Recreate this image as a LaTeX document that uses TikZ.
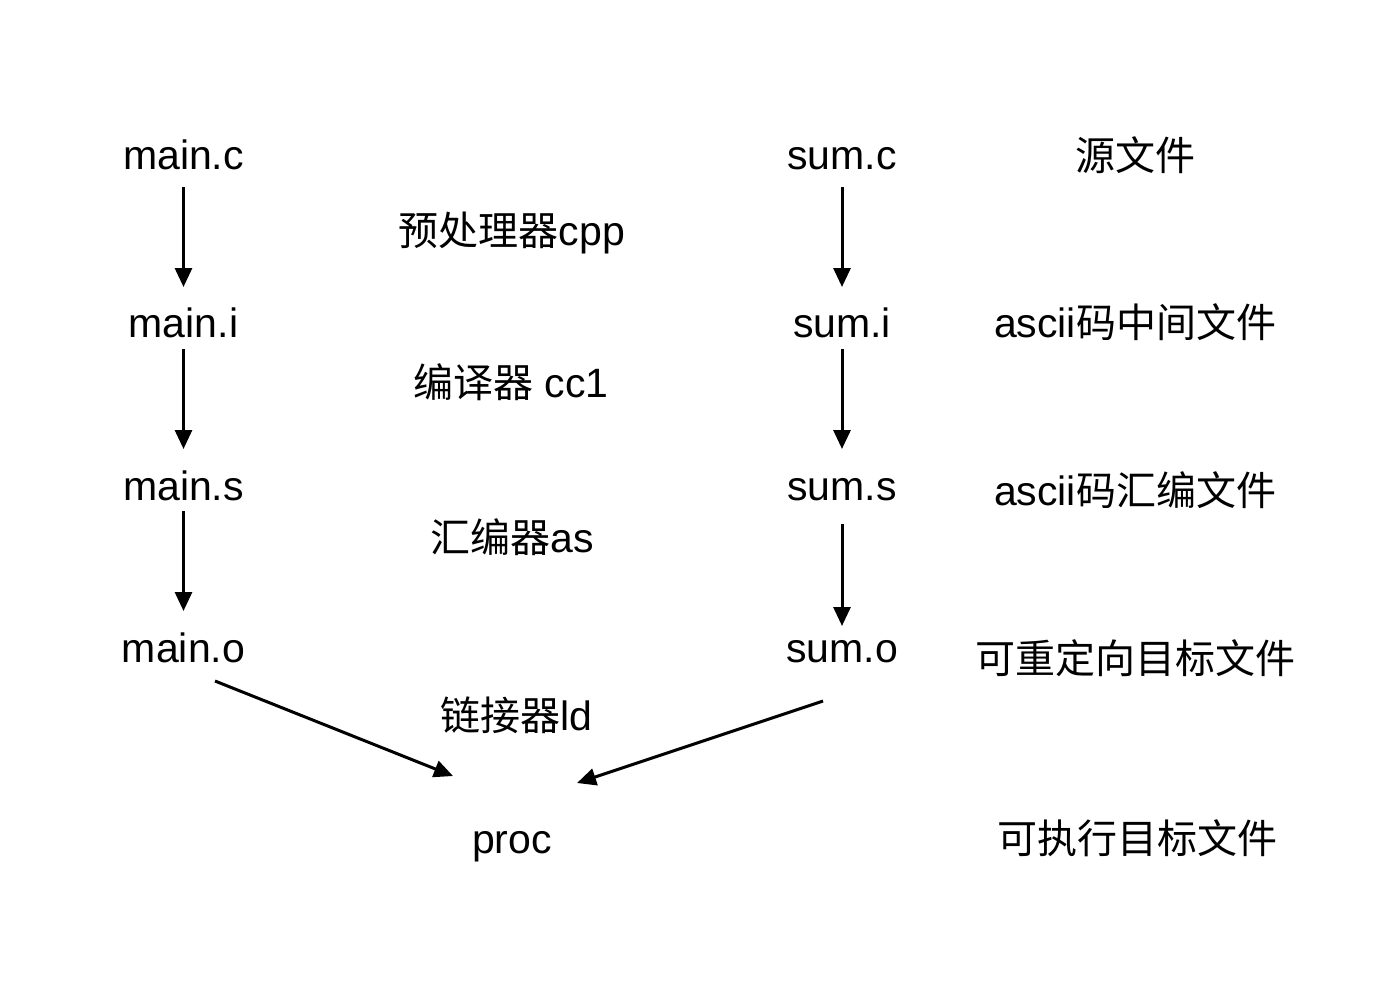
\documentclass[tikz,border=0pt]{standalone}
\usepackage{fontspec}
\setmainfont{Liberation Sans}
\newfontfamily\cjk{Noto Sans CJK SC}
\newcommand\zhtxt[1]{{\fontsize{40}{44}\selectfont\cjk #1}}
\usetikzlibrary{arrows.meta}
\tikzset{
  lbl/.style={font=\fontsize{41}{46}\selectfont, inner sep=0pt, anchor=base},
  arr/.style={line width=3pt, -{Triangle[length=19pt,width=17pt]}}
}
\begin{document}
\begin{tikzpicture}[x=1pt,y=-1pt]
\useasboundingbox[fill=white] (0,0) rectangle (1390,1004);
% left column
\node[lbl] (mainc) at (183.5,169) {main.c};
\node[lbl] (maini) at (183.5,337) {main.i};
\node[lbl] (mains) at (183.5,500) {main.s};
\node[lbl] (maino) at (183.5,662) {main.o};
% right column
\node[lbl] (sumc) at (842,169) {sum.c};
\node[lbl] (sumi) at (842,337) {sum.i};
\node[lbl] (sums) at (842,500) {sum.s};
\node[lbl] (sumo) at (842,662) {sum.o};
% result
\node[lbl] (proc) at (512,853) {proc};
% tool labels
\node[lbl] (cpp) at (512,245) {\zhtxt{预处理器}cpp};
\node[lbl] (cc1) at (511,397) {\zhtxt{编译器} cc1};
\node[lbl] (as)  at (512,552) {\zhtxt{汇编器}as};
\node[lbl] (ld)  at (516,730) {\zhtxt{链接器}ld};
% file types
\node[lbl] (t1) at (1135,170) {\zhtxt{源文件}};
\node[lbl] (t2) at (1135,337) {ascii\zhtxt{码中间文件}};
\node[lbl] (t3) at (1135,505) {ascii\zhtxt{码汇编文件}};
\node[lbl] (t4) at (1135,673) {\zhtxt{可重定向目标文件}};
\node[lbl] (t5) at (1137,853) {\zhtxt{可执行目标文件}};
% arrows left
\draw[arr, shorten <=18pt, shorten >=50pt] (mainc.base) -- (maini.base);
\draw[arr, shorten <=12pt, shorten >=51pt] (maini.base) -- (mains.base);
\draw[arr, shorten <=11pt, shorten >=51pt] (mains.base) -- (maino.base);
% arrows right
\draw[arr, shorten <=18pt, shorten >=50pt] (sumc.base) -- (sumi.base);
\draw[arr, shorten <=12pt, shorten >=51pt] (sumi.base) -- (sums.base);
\draw[arr, shorten <=24pt, shorten >=36pt] (sums.base) -- (sumo.base);
% link arrows
\draw[arr] ([xshift=31.5pt,yshift=-19pt]maino.base) -- ([xshift=-59pt,yshift=77pt]proc.base);
\draw[arr] ([xshift=-19pt,yshift=-39pt]sumo.base) -- ([xshift=65pt,yshift=70pt]proc.base);
\end{tikzpicture}
\end{document}
